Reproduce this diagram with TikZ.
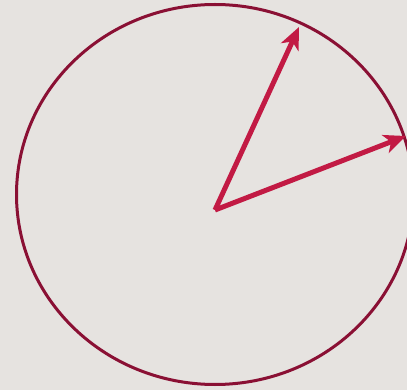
\documentclass[tikz,border=0pt]{standalone}
\usepackage{xcolor}
\usetikzlibrary{arrows.meta}
\definecolor{bgpaper}{HTML}{E6E3E0}
\definecolor{ringred}{HTML}{8A1034}
\definecolor{vecred}{HTML}{C21A44}

\begin{document}
\begin{tikzpicture}[x=1pt,y=-1pt,>={Stealth[length=22pt,width=19pt,inset=6pt]}]

\tikzset{
ring/.style={draw=ringred,line width=3pt},
vec/.style={->,draw=vecred,fill=vecred,line width=5pt}
}

% canvas
\fill[bgpaper] (0,0) rectangle (407,390);
\useasboundingbox (0,0) rectangle (407,390);

\coordinate (centre) at (215,194.5);
\coordinate (tail) at (215,210);
\coordinate (tipA) at (299,27);
\coordinate (tipB) at (406,136);

\draw[ring] (centre) ellipse [x radius=198.5, y radius=190];

\draw[vec] (tail) -- (tipA);
\draw[vec] (tail) -- (tipB);

\end{tikzpicture}
\end{document}
